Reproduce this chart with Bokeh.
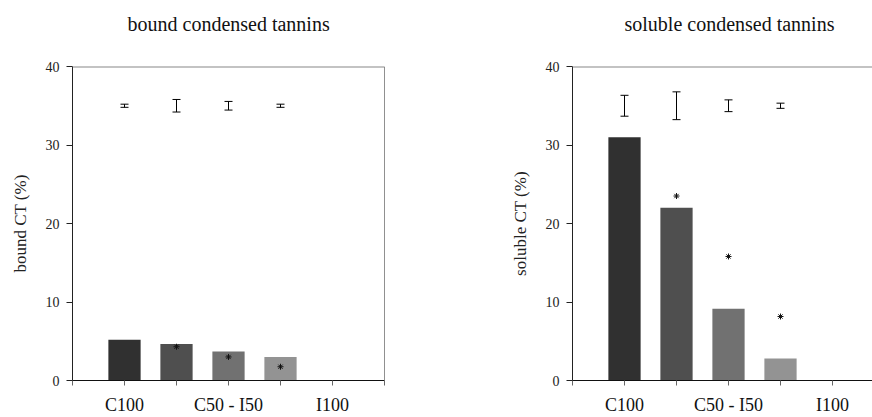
from bokeh.plotting import figure
from bokeh.layouts import row
from bokeh.models import ColumnDataSource, Whisker, TeeHead, Span, FixedTicker, Range1d, Title
from bokeh.embed import file_html
from bokeh.resources import INLINE

# ---- data ----
positions = [1, 2, 3, 4]
tick_positions = [1, 2, 3, 4, 5]
tick_labels = ["C100", "", "C50 - I50", "", "I100"]
bar_colors = ["#303030", "#4f4f4f", "#717171", "#939393"]

bound_values = [5.2, 4.65, 3.7, 3.0]
bound_err = [0.2, 0.8, 0.55, 0.2]
bound_star_x = [2, 3, 4]
bound_star_y = [4.3, 3.0, 1.75]

soluble_values = [31.0, 22.0, 9.15, 2.8]
soluble_err = [1.33, 1.77, 0.75, 0.33]
soluble_star_x = [2, 3, 4]
soluble_star_y = [23.5, 15.8, 8.15]

err_center = 35.0
y_ticks = [0, 10, 20, 30, 40]

FONT = "Liberation Serif"
UNIT_PX = 52.0


def make_panel(title, ylabel, values, errs, star_x, star_y, width, border_left,
               border_right, draw_right, title_offset):
    frame_w = width - border_left - border_right
    p = figure(width=width, height=417, output_backend="svg", toolbar_location=None,
               x_range=Range1d(0, frame_w / UNIT_PX), y_range=Range1d(0, 40),
               min_border_left=border_left, min_border_right=border_right,
               min_border_top=66, min_border_bottom=34)
    p.outline_line_color = None
    p.grid.visible = False
    p.background_fill_color = "white"

    # empty spacer between frame and title
    p.add_layout(Title(text=" ", text_font_size="12px", standoff=16), "above")

    p.title.text = title
    p.title.text_font = FONT
    p.title.text_font_size = "20px"
    p.title.text_font_style = "normal"
    p.title.text_color = "#111111"
    p.title.align = "left"
    p.title.offset = title_offset
    p.title.standoff = 0

    src = ColumnDataSource(dict(x=positions, top=values, color=bar_colors,
                                upper=[err_center + e for e in errs],
                                lower=[err_center - e for e in errs]))
    p.vbar(x="x", top="top", bottom=0, width=0.62, fill_color="color",
           line_color=None, source=src)

    w = Whisker(source=src, base="x", upper="upper", lower="lower",
                line_color="black", line_width=1,
                upper_head=TeeHead(size=8, line_color="black", line_width=1),
                lower_head=TeeHead(size=8, line_color="black", line_width=1))
    p.add_layout(w)

    p.scatter(star_x, star_y, marker="asterisk", size=6, line_color="#111111",
              line_width=1)

    # frame lines
    p.add_layout(Span(location=40, dimension="width", line_color="#888888", line_width=2))
    if draw_right:
        p.add_layout(Span(location=6, dimension="height", line_color="#222222", line_width=1))

    # y axis
    ya = p.yaxis[0]
    ya.ticker = FixedTicker(ticks=y_ticks)
    ya.minor_tick_line_color = None
    ya.major_tick_out = 6
    ya.major_tick_in = 0
    ya.axis_line_color = "#222222"
    ya.major_tick_line_color = "#222222"
    ya.major_label_text_font = FONT
    ya.major_label_text_font_size = "14px"
    ya.major_label_text_color = "#222222"
    ya.major_label_standoff = 7
    ya.axis_label = ylabel
    ya.axis_label_text_font = FONT
    ya.axis_label_text_font_size = "17px"
    ya.axis_label_text_font_style = "normal"
    ya.axis_label_text_color = "#222222"
    ya.axis_label_standoff = 13

    # x axis
    xa = p.xaxis[0]
    xa.ticker = FixedTicker(ticks=[0, 1, 2, 3, 4, 5, 6])
    overrides = {0: "", 6: ""}
    for tp, tl in zip(tick_positions, tick_labels):
        overrides[tp] = tl
    xa.major_label_overrides = overrides
    xa.minor_tick_line_color = None
    xa.major_tick_out = 5
    xa.major_tick_in = 0
    xa.axis_line_color = "#111111"
    xa.major_tick_line_color = "#666666"
    xa.major_label_text_font = FONT
    xa.major_label_text_font_size = "18px"
    xa.major_label_text_color = "#111111"
    xa.major_label_standoff = 9
    return p


p1 = make_panel("bound condensed tannins", "bound CT (%)", bound_values, bound_err,
                bound_star_x, bound_star_y, 436, 72, 52, True, 55)
p2 = make_panel("soluble condensed tannins", "soluble CT (%)", soluble_values, soluble_err,
                soluble_star_x, soluble_star_y, 436, 136, 0, False, 52)

layout = row(p1, p2)
open("out.html", "w").write(file_html(layout, INLINE))
